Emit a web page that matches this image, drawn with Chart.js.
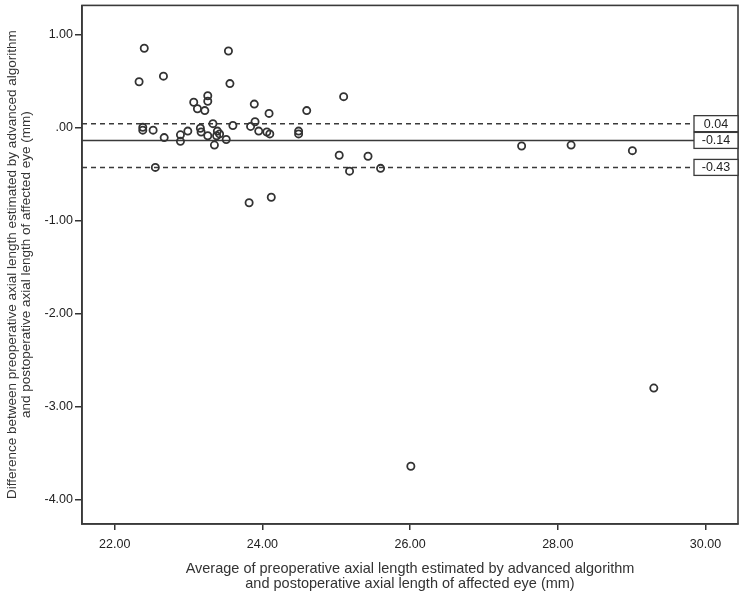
<!DOCTYPE html>
<html>
<head>
<meta charset="utf-8">
<script src="https://cdn.jsdelivr.net/npm/chart.js@4"></script>
<style>
  html, body { margin: 0; padding: 0; background: #fff; }
</style>
</head>
<body>
<canvas id="blandAltman" width="744" height="595"></canvas>
<script>
// averages (x) and differences (y)
const averages = [
  22.40, 23.54, 22.33, 22.66, 23.56, 23.07, 23.26, 23.26, 23.12, 23.22,
  23.89, 24.09, 24.60, 22.38, 22.38, 22.52, 22.67, 22.89, 22.89, 22.99,
  23.16, 23.17, 23.26, 23.33, 23.39, 23.42, 23.38, 23.35, 23.51, 23.60,
  23.84, 23.90, 23.95, 24.06, 24.10, 24.49, 24.49, 22.55, 23.82, 24.12,
  25.10, 25.04, 25.43, 25.18, 25.60, 27.51, 28.18, 29.01, 29.30, 26.01
];
const differences = [
  0.85, 0.82, 0.49, 0.55, 0.47, 0.27, 0.34, 0.28, 0.20, 0.18,
  0.25, 0.15, 0.18, 0.00, -0.03, -0.03, -0.11, -0.08, -0.15, -0.04,
  -0.01, -0.05, -0.09, 0.04, -0.04, -0.07, -0.09, -0.19, -0.13, 0.02,
  0.01, 0.06, -0.04, -0.05, -0.07, -0.04, -0.07, -0.43, -0.81, -0.75,
  0.33, -0.30, -0.31, -0.47, -0.44, -0.20, -0.19, -0.25, -2.80, -3.64
];

// mean difference and limits of agreement
const refValues = [0.04, -0.14, -0.43];
const refLabels = ['0.04', '-0.14', '-0.43'];
const refDashed = [true, false, true];

const xTicks = [22, 24, 26, 28, 30];
const xTickLabels = ['22.00', '24.00', '26.00', '28.00', '30.00'];
const yTicks = [1, 0, -1, -2, -3, -4];
const yTickLabels = ['1.00', '.00', '-1.00', '-2.00', '-3.00', '-4.00'];

const xTitle = ['Average of preoperative axial length estimated by advanced algorithm',
                'and postoperative axial length of affected eye (mm)'];
const yTitle = ['Difference between preoperative axial length estimated by advanced algorithm',
                'and postoperative axial length of affected eye (mm)'];

const font = 'Liberation Sans, Arial, sans-serif';

const refLinesPlugin = {
  id: 'refLines',
  beforeDatasetsDraw(chart) {
    const { ctx, chartArea, scales } = chart;
    ctx.save();
    ctx.strokeStyle = '#3a3a3a';
    ctx.lineWidth = 1.5;
    refValues.forEach((v, i) => {
      const y = scales.y.getPixelForValue(v);
      ctx.setLineDash(refDashed[i] ? [5, 4] : []);
      ctx.beginPath();
      ctx.moveTo(chartArea.left, y);
      ctx.lineTo(chartArea.right - 44, y);
      ctx.stroke();
    });
    ctx.restore();
  },
  afterDatasetsDraw(chart) {
    const { ctx, chartArea, scales } = chart;
    ctx.save();
    // frame
    ctx.strokeStyle = '#3a3a3a';
    ctx.lineWidth = 1.6;
    ctx.strokeRect(chartArea.left, chartArea.top, chartArea.right - chartArea.left, chartArea.bottom - chartArea.top);
    // value boxes
    ctx.font = '12.5px ' + font;
    ctx.textAlign = 'center';
    ctx.textBaseline = 'middle';
    refValues.forEach((v, i) => {
      const y = scales.y.getPixelForValue(v);
      const bx = chartArea.right - 44;
      ctx.fillStyle = '#fff';
      ctx.fillRect(bx, y - 8, 44, 16);
      ctx.lineWidth = 1.3;
      ctx.strokeRect(bx, y - 8, 44, 16);
      ctx.fillStyle = '#222';
      ctx.fillText(refLabels[i], bx + 22, y + 0.5);
    });
    ctx.restore();
  }
};

new Chart(document.getElementById('blandAltman'), {
  type: 'scatter',
  data: {
    datasets: [{
      data: averages.map((x, i) => ({ x: x, y: differences[i] })),
      pointStyle: 'circle',
      pointRadius: 3.6,
      pointHoverRadius: 3.6,
      borderWidth: 1.8,
      borderColor: '#333',
      backgroundColor: 'rgba(0,0,0,0)'
    }]
  },
  options: {
    responsive: false,
    animation: false,
    devicePixelRatio: 1,
    layout: { padding: { left: 0, right: 6, top: 4, bottom: 0 } },
    plugins: { legend: { display: false }, tooltip: { enabled: false } },
    scales: {
      x: {
        type: 'linear',
        min: 21.557,
        max: 30.44,
        afterBuildTicks: s => { s.ticks = xTicks.map(v => ({ value: v })); },
        afterFit: s => { s.height = 71; s.paddingLeft = 0; s.paddingRight = 0; },
        ticks: {
          callback: v => xTickLabels[xTicks.indexOf(v)],
          color: '#222',
          padding: 7,
          maxRotation: 0,
          font: { family: font, size: 12.5 }
        },
        grid: { drawOnChartArea: false, tickLength: 6, color: '#333', lineWidth: 1.5 },
        border: { color: '#3a3a3a', width: 1.6 },
        title: {
          display: true,
          text: xTitle,
          color: '#333',
          padding: { top: 0, bottom: 3 },
          font: { family: font, size: 14.5, lineHeight: 1.04 }
        }
      },
      y: {
        type: 'linear',
        min: -4.26,
        max: 1.31,
        afterBuildTicks: s => { s.ticks = yTicks.map(v => ({ value: v })); },
        afterFit: s => { s.width = 82; s.paddingTop = 0; s.paddingBottom = 0; },
        ticks: {
          callback: v => yTickLabels[yTicks.indexOf(v)],
          color: '#222',
          padding: 2,
          font: { family: font, size: 12.5 }
        },
        grid: { drawOnChartArea: false, tickLength: 7, color: '#333', lineWidth: 1.5 },
        border: { color: '#3a3a3a', width: 1.6 },
        title: {
          display: true,
          text: yTitle,
          color: '#333',
          padding: { top: 5, bottom: 0 },
          font: { family: font, size: 13.5, lineHeight: 1.04 }
        }
      }
    }
  },
  plugins: [refLinesPlugin]
});
</script>
</body>
</html>
